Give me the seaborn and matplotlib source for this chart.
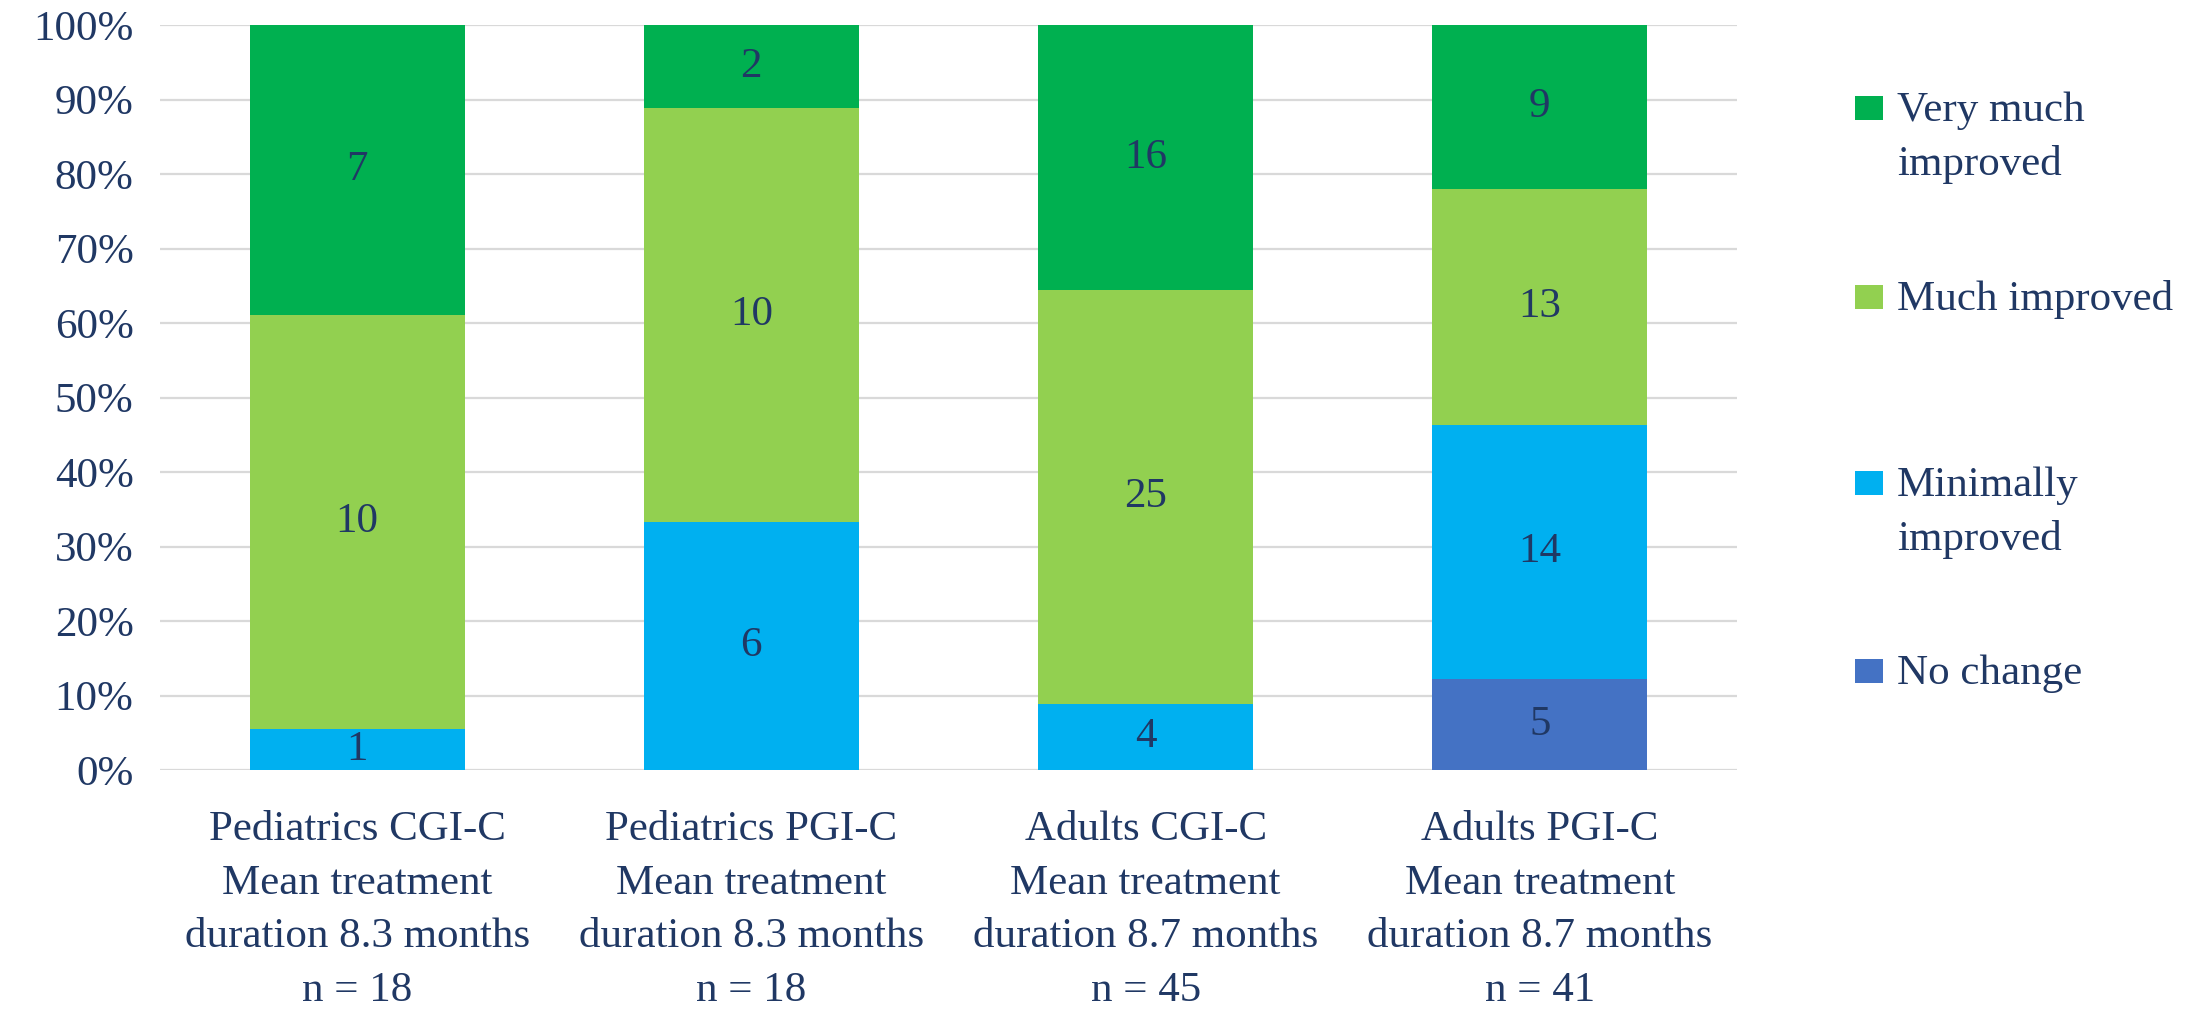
import matplotlib
matplotlib.use("Agg")
import matplotlib.pyplot as plt
from matplotlib.patches import Rectangle
import numpy as np
import pandas as pd
import seaborn as sns

# Response counts per group (stacked from bottom to top)
categories = [
    "Pediatrics CGI-C\nMean treatment\nduration 8.3 months\nn = 18",
    "Pediatrics PGI-C\nMean treatment\nduration 8.3 months\nn = 18",
    "Adults CGI-C\nMean treatment\nduration 8.7 months\nn = 45",
    "Adults PGI-C\nMean treatment\nduration 8.7 months\nn = 41",
]
no_change = [0, 0, 0, 5]
minimally_improved = [1, 6, 4, 14]
much_improved = [10, 10, 25, 13]
very_much_improved = [7, 2, 16, 9]

series_names = ["No change", "Minimally improved", "Much improved", "Very much improved"]
legend_lines = [["No change"], ["Minimally", "improved"], ["Much improved"], ["Very much", "improved"]]
series_colors = ["#4472C4", "#00B0F0", "#92D050", "#00B050"]
text_color = "#203864"

sns.set_theme(style="white")
plt.rcParams["font.family"] = ["Liberation Serif", "DejaVu Serif"]

counts = np.array([no_change, minimally_improved, much_improved, very_much_improved], dtype=float)
totals = counts.sum(axis=0)
shares = counts / totals * 100

fig = plt.figure(figsize=(21.87, 10.09), dpi=100)
W, H = 2187, 1009
ax = fig.add_axes([160 / W, 1 - 770 / H, (1737 - 160) / W, (770 - 25) / H])

bottom = np.zeros(len(categories))
for i, name in enumerate(series_names):
    df = pd.DataFrame({"group": categories, "share": shares[i]})
    sns.barplot(data=df, x="group", y="share", color=series_colors[i],
                width=0.545, bottom=bottom, ax=ax, saturation=1,
                linewidth=0, zorder=3)
    container = ax.containers[-1]
    labels = [f"{int(c)}" if c > 0 else "" for c in counts[i]]
    ax.bar_label(container, labels=labels, label_type="center",
                 fontsize=31, color=text_color)
    bottom = bottom + shares[i]

ax.set_ylim(0, 100)
ax.set_xlim(-0.5, len(categories) - 0.5)
ax.set_yticks(np.arange(0, 101, 10))
ax.set_yticklabels([f"{v}%" for v in range(0, 101, 10)])
ax.set_xlabel("")
ax.set_ylabel("")
ax.yaxis.grid(True, color="#D9D9D9", linewidth=1.6, zorder=0)
ax.set_axisbelow(True)
for s in ax.spines.values():
    s.set_visible(False)
ax.tick_params(axis="y", length=0, pad=19, labelsize=31, labelcolor=text_color)
ax.tick_params(axis="x", length=0, pad=29, labelsize=31, labelcolor=text_color)
for lbl in ax.get_xticklabels():
    lbl.set_linespacing(1.52)

# Legend drawn on the right, top entry first
entries = list(zip(series_names, legend_lines, series_colors))[::-1]
first_baselines = [121, 310, 496, 684]
for (name, lines, color), base in zip(entries, first_baselines):
    fig.add_artist(Rectangle((1855 / W, 1 - (base - 1) / H), 28 / W, 24 / H,
                             transform=fig.transFigure, facecolor=color,
                             edgecolor="none"))
    for k, line in enumerate(lines):
        fig.text(1897 / W, 1 - (base + k * 54) / H, line, fontsize=31,
                 color=text_color, va="baseline", ha="left")

fig.savefig("out.png", dpi=100, facecolor="white")
